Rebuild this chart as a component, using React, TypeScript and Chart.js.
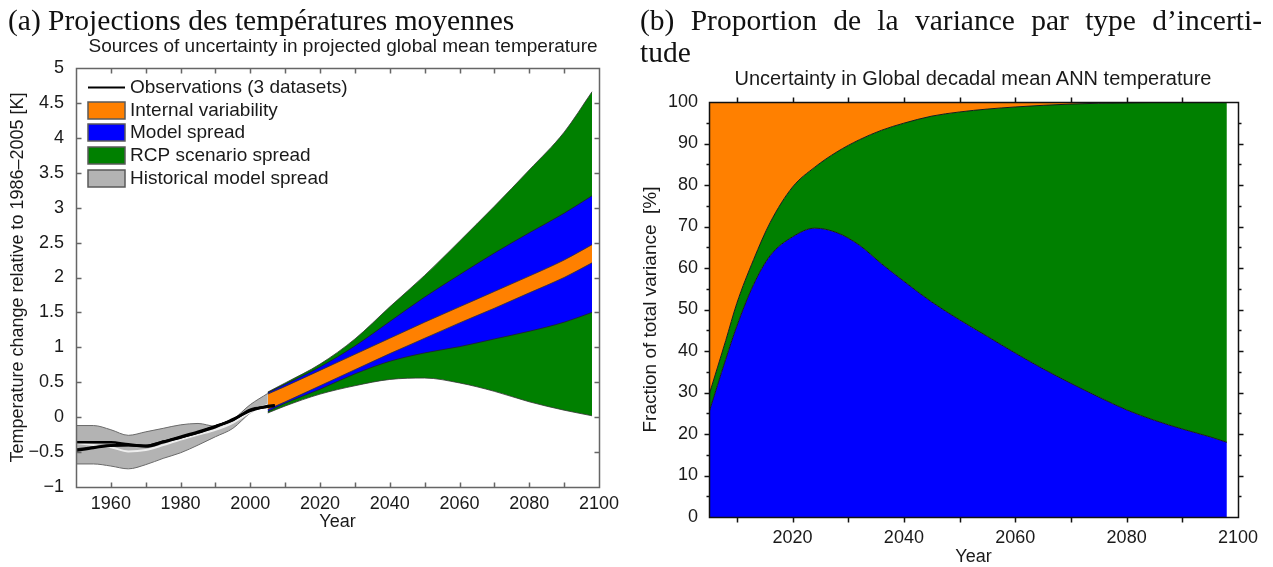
import React, { useEffect, useRef } from 'react';
import { Chart, registerables } from 'chart.js';

Chart.register(...registerables);

const SANS = "'Liberation Sans', Arial, Helvetica, sans-serif";
const SERIF = "'Liberation Serif', 'Times New Roman', serif";
const TEXT = '#1a1a1a';

// ---------------- Panel (a): temperature projections ----------------
const histYears = [1950, 1955, 1960, 1965, 1970, 1975, 1980, 1985, 1990, 1995, 2000, 2005];
const histSpreadTop = [-0.12, -0.12, -0.18, -0.26, -0.21, -0.16, -0.11, -0.09, -0.13, -0.03, 0.18, 0.34];
const histSpreadBottom = [-0.67, -0.67, -0.70, -0.74, -0.68, -0.59, -0.51, -0.40, -0.28, -0.16, 0.06, 0.18];
const histModelMean = [-0.37, -0.40, -0.43, -0.49, -0.47, -0.40, -0.32, -0.25, -0.18, -0.08, 0.07, 0.18];

const obsYears = [1950, 1955, 1960, 1965, 1970, 1975, 1980, 1985, 1990, 1995, 2000, 2005, 2007];
const obsSeriesA = [-0.36, -0.36, -0.36, -0.39, -0.41, -0.35, -0.28, -0.21, -0.13, -0.04, 0.10, 0.15, 0.16];
const obsSeriesB = [-0.48, -0.44, -0.41, -0.40, -0.42, -0.36, -0.29, -0.22, -0.14, -0.03, 0.09, 0.16, 0.17];
const obsSeriesC = [-0.46, -0.43, -0.40, -0.40, -0.41, -0.35, -0.29, -0.22, -0.13, -0.04, 0.11, 0.15, 0.17];

const projYears = [2005, 2010, 2020, 2030, 2040, 2050, 2060, 2070, 2080, 2090, 2098];
const rcpUpper = [0.36, 0.49, 0.76, 1.12, 1.58, 2.03, 2.52, 3.02, 3.54, 4.08, 4.66];
const modelUpper = [0.35, 0.47, 0.72, 1.02, 1.37, 1.72, 2.04, 2.35, 2.64, 2.92, 3.17];
const internalUpper = [0.33, 0.44, 0.67, 0.90, 1.13, 1.36, 1.58, 1.80, 2.02, 2.25, 2.47];
const internalLower = [0.11, 0.22, 0.45, 0.68, 0.91, 1.13, 1.35, 1.56, 1.78, 2.00, 2.21];
const modelLower = [0.08, 0.20, 0.40, 0.62, 0.80, 0.92, 1.01, 1.12, 1.23, 1.36, 1.50];
const rcpLower = [0.06, 0.16, 0.33, 0.45, 0.54, 0.56, 0.49, 0.37, 0.22, 0.10, 0.02];

const panelAXLabels = [1960, 1980, 2000, 2020, 2040, 2060, 2080, 2100];
const panelAXMarks = [1960, 1970, 1980, 1990, 2000, 2010, 2020, 2030, 2040, 2050, 2060, 2070, 2080, 2090];
const panelAYLabels = [-1, -0.5, 0, 0.5, 1, 1.5, 2, 2.5, 3, 3.5, 4, 4.5, 5];
const panelAYMarks = [-0.5, 0, 0.5, 1, 1.5, 2, 2.5, 3, 3.5, 4, 4.5];

const legendLabels = [
  'Observations (3 datasets)',
  'Internal variability',
  'Model spread',
  'RCP scenario spread',
  'Historical model spread',
];
const legendKinds = ['line', 'box', 'box', 'box', 'box'];
const legendColors = ['#000000', '#ff8000', '#0000ff', '#008000', '#b3b3b3'];

// ---------------- Panel (b): fraction of variance ----------------
const fracYears = [2005, 2008, 2010, 2013, 2016, 2020, 2024, 2028, 2032, 2036, 2040, 2045, 2050, 2055, 2060, 2065, 2070, 2075, 2080, 2085, 2090, 2095, 2098];
const modelSpreadPct = [25.2, 38, 46, 56, 63, 67.5, 69.6, 68.5, 65.5, 61, 56.8, 51.8, 47.5, 43.5, 39.5, 35.7, 32.2, 28.9, 25.8, 23.3, 21.2, 19.3, 18.0];
const modelPlusScenarioPct = [29.4, 42.5, 51.5, 62, 71, 79.5, 84.3, 88.0, 90.9, 93.2, 94.9, 96.6, 97.6, 98.3, 98.8, 99.2, 99.5, 99.7, 99.8, 99.9, 99.95, 100, 100];

const panelBXLabels = [2020, 2040, 2060, 2080, 2100];
const panelBXMarks = [2010, 2020, 2030, 2040, 2050, 2060, 2070, 2080, 2090];
const panelBYLabels = [0, 10, 20, 30, 40, 50, 60, 70, 80, 90, 100];
const panelBYMarks = [10, 20, 30, 40, 50, 60, 70, 80, 90];
const panelBYMinor = [5, 15, 25, 35, 45, 55, 65, 75, 85, 95];

// ---------------- helpers ----------------
const pts = (xs: number[], ys: number[]) => xs.map((x, i) => ({ x, y: ys[i] }));
const fmtNum = (v: number) => (v < 0 ? '\u2212' + String(Math.abs(v)) : String(v));

type FrameCfg = {
  color: string;
  lineWidth: number;
  inward: boolean;
  xMajor: number[];
  yMajor: number[];
  yMinor?: number[];
  majorLen: number;
  minorLen: number;
};

function makeFramePlugin(cfg: FrameCfg) {
  return {
    id: 'frameTicks',
    afterDatasetsDraw(chart: any) {
      const { ctx, chartArea: a } = chart;
      const xs = chart.scales.x;
      const ys = chart.scales.y;
      const L = Math.round(a.left) + 0.5;
      const R = Math.round(a.right) + 0.5;
      const T = Math.round(a.top) + 0.5;
      const B = Math.round(a.bottom) + 0.5;
      const d = cfg.inward ? 1 : -1;
      ctx.save();
      ctx.strokeStyle = cfg.color;
      ctx.lineWidth = cfg.lineWidth;
      ctx.beginPath();
      ctx.rect(L, T, R - L, B - T);
      const addX = (vals: number[], len: number) =>
        vals.forEach((v) => {
          const p = Math.round(xs.getPixelForValue(v)) + 0.5;
          ctx.moveTo(p, B);
          ctx.lineTo(p, B - d * len);
          ctx.moveTo(p, T);
          ctx.lineTo(p, T + d * len);
        });
      const addY = (vals: number[], len: number) =>
        vals.forEach((v) => {
          const p = Math.round(ys.getPixelForValue(v)) + 0.5;
          ctx.moveTo(L, p);
          ctx.lineTo(L + d * len, p);
          ctx.moveTo(R, p);
          ctx.lineTo(R - d * len, p);
        });
      addX(cfg.xMajor, cfg.majorLen);
      addY(cfg.yMajor, cfg.majorLen);
      if (cfg.yMinor) addY(cfg.yMinor, cfg.minorLen);
      ctx.stroke();
      ctx.restore();
    },
  };
}

const boxLegendPlugin = {
  id: 'boxLegend',
  afterDraw(chart: any) {
    const { ctx, chartArea: a } = chart;
    ctx.save();
    ctx.font = `19px ${SANS}`;
    ctx.textBaseline = 'middle';
    ctx.textAlign = 'left';
    legendLabels.forEach((label, i) => {
      const y = Math.round(a.top + 19 + i * 22.7);
      const x = Math.round(a.left + 12);
      if (legendKinds[i] === 'line') {
        ctx.strokeStyle = legendColors[i];
        ctx.lineWidth = 2;
        ctx.beginPath();
        ctx.moveTo(x, y + 0.5);
        ctx.lineTo(x + 37, y + 0.5);
        ctx.stroke();
      } else {
        ctx.fillStyle = legendColors[i];
        ctx.fillRect(x, y - 8, 37, 17);
        ctx.strokeStyle = '#5a5a5a';
        ctx.lineWidth = 1.5;
        ctx.strokeRect(x, y - 8, 37, 17);
      }
      ctx.fillStyle = TEXT;
      ctx.fillText(label, x + 42, y + 1);
    });
    ctx.restore();
  },
};

function bandLine(data: { x: number; y: number }[], fill: any, bg: string, border: string, width: number) {
  return {
    data,
    fill,
    backgroundColor: bg,
    borderColor: border,
    borderWidth: width,
    pointRadius: 0,
    cubicInterpolationMode: 'monotone',
  };
}

function makePanelA(): any {
  return {
    type: 'line',
    data: {
      datasets: [
        bandLine(pts(obsYears, obsSeriesA), false, 'transparent', '#000', 2.6),
        bandLine(pts(obsYears, obsSeriesB), false, 'transparent', '#000', 2.6),
        bandLine(pts(obsYears, obsSeriesC), false, 'transparent', '#111', 2.2),
        bandLine(pts(histYears, histModelMean), false, 'transparent', '#eeeeee', 2),
        bandLine(pts(histYears, histSpreadTop), '+1', '#b3b3b3', '#6a6a6a', 1),
        bandLine(pts(histYears, histSpreadBottom), false, 'transparent', '#6a6a6a', 1),
        bandLine(pts(projYears, internalUpper), '+1', '#ff8000', '#333', 0.8),
        bandLine(pts(projYears, internalLower), false, 'transparent', '#333', 0.8),
        bandLine(pts(projYears, modelUpper), '+1', '#0000ff', '#222', 0.8),
        bandLine(pts(projYears, modelLower), false, 'transparent', '#222', 0.8),
        bandLine(pts(projYears, rcpUpper), '+1', '#008000', '#333', 0.8),
        bandLine(pts(projYears, rcpLower), false, 'transparent', '#333', 0.8),
      ],
    },
    plugins: [
      makeFramePlugin({
        color: '#666',
        lineWidth: 1.5,
        inward: true,
        xMajor: panelAXMarks,
        yMajor: panelAYMarks,
        majorLen: 5,
        minorLen: 3,
      }),
      boxLegendPlugin,
    ],
    options: {
      animation: false,
      responsive: false,
      devicePixelRatio: 1,
      layout: { padding: { left: 0, right: 15, top: 68, bottom: 0 } },
      plugins: {
        legend: { display: false },
        tooltip: { enabled: false },
        title: { display: false },
        filler: { drawTime: 'beforeDatasetsDraw' },
      },
      scales: {
        x: {
          type: 'linear',
          min: 1950,
          max: 2100,
          grid: { display: false, drawTicks: false },
          border: { display: false },
          afterBuildTicks: (s: any) => {
            s.ticks = panelAXLabels.map((v) => ({ value: v }));
          },
          afterFit: (s: any) => {
            s.height = 80;
          },
          ticks: {
            autoSkip: false,
            maxRotation: 0,
            padding: 6,
            color: TEXT,
            font: { family: SANS, size: 18 },
            callback: (v: any) => String(v),
          },
          title: {
            display: true,
            text: 'Year',
            color: TEXT,
            font: { family: SANS, size: 18 },
            padding: { top: 0, bottom: 34 },
          },
        },
        y: {
          type: 'linear',
          min: -1,
          max: 5,
          grid: { display: false, drawTicks: false },
          border: { display: false },
          afterBuildTicks: (s: any) => {
            s.ticks = panelAYLabels.map((v) => ({ value: v }));
          },
          afterFit: (s: any) => {
            s.width = 76;
          },
          ticks: {
            autoSkip: false,
            padding: 12,
            color: TEXT,
            font: { family: SANS, size: 18 },
            callback: (v: any) => fmtNum(Number(v)),
          },
          title: {
            display: true,
            text: 'Temperature change relative to 1986\u20132005 [K]',
            color: TEXT,
            font: { family: SANS, size: 18 },
            padding: { top: 7, bottom: 0 },
          },
        },
      },
    },
  };
}

function makePanelB(): any {
  return {
    type: 'line',
    data: {
      datasets: [
        bandLine(pts(fracYears, modelSpreadPct), 'origin', '#0000ff', '#1a1a1a', 1),
        bandLine(pts(fracYears, modelPlusScenarioPct), '-1', '#008000', '#1a1a1a', 1),
        bandLine(pts(fracYears, modelPlusScenarioPct), 'end', '#ff8000', 'rgba(0,0,0,0)', 0),
      ],
    },
    plugins: [
      makeFramePlugin({
        color: '#111',
        lineWidth: 1.5,
        inward: false,
        xMajor: panelBXMarks,
        yMajor: panelBYMarks,
        yMinor: panelBYMinor,
        majorLen: 5,
        minorLen: 3,
      }),
    ],
    options: {
      animation: false,
      responsive: false,
      devicePixelRatio: 1,
      layout: { padding: { left: 0, right: 35, top: 102, bottom: 0 } },
      plugins: {
        legend: { display: false },
        tooltip: { enabled: false },
        title: { display: false },
        filler: { drawTime: 'beforeDatasetsDraw' },
      },
      scales: {
        x: {
          type: 'linear',
          min: 2005,
          max: 2100,
          grid: { display: false, drawTicks: false },
          border: { display: false },
          afterBuildTicks: (s: any) => {
            s.ticks = panelBXLabels.map((v) => ({ value: v }));
          },
          afterFit: (s: any) => {
            s.height = 50;
          },
          ticks: {
            autoSkip: false,
            maxRotation: 0,
            padding: 10,
            color: TEXT,
            font: { family: SANS, size: 18 },
            callback: (v: any) => String(v),
          },
          title: {
            display: true,
            text: 'Year',
            color: TEXT,
            font: { family: SANS, size: 18 },
            padding: { top: 0, bottom: -1 },
          },
        },
        y: {
          type: 'linear',
          min: 0,
          max: 100,
          grid: { display: false, drawTicks: false },
          border: { display: false },
          afterBuildTicks: (s: any) => {
            s.ticks = panelBYLabels.map((v) => ({ value: v }));
          },
          afterFit: (s: any) => {
            s.width = 79;
          },
          ticks: {
            autoSkip: false,
            padding: 11,
            color: TEXT,
            font: { family: SANS, size: 18 },
            callback: (v: any) => String(v),
          },
          title: {
            display: true,
            text: 'Fraction of total variance  [%]',
            color: TEXT,
            font: { family: SANS, size: 19 },
            padding: { top: 9, bottom: 0 },
          },
        },
      },
    },
  };
}

function ChartCanvas(props: { make: () => any; left: number; top: number; width: number; height: number }) {
  const ref = useRef<HTMLCanvasElement>(null);
  useEffect(() => {
    const chart = new Chart(ref.current as HTMLCanvasElement, props.make());
    return () => chart.destroy();
  }, []);
  return (
    <canvas
      ref={ref}
      width={props.width}
      height={props.height}
      style={{ position: 'absolute', left: props.left, top: props.top, width: props.width, height: props.height }}
    />
  );
}

const headingStyle = (left: number, top: number, width?: number): React.CSSProperties => ({
  position: 'absolute',
  left,
  top,
  width,
  fontFamily: SERIF,
  fontSize: 29.5,
  lineHeight: '33px',
  color: '#111',
  whiteSpace: 'nowrap',
  textAlign: width ? 'justify' : 'left',
  textAlignLast: width ? 'justify' : 'auto',
});

const centeredStyle = (cx: number, cy: number, size: number): React.CSSProperties => ({
  position: 'absolute',
  left: cx,
  top: cy,
  transform: 'translate(-50%, -50%)',
  fontFamily: SANS,
  fontSize: size,
  lineHeight: '22px',
  color: TEXT,
  whiteSpace: 'nowrap',
});

export default function App() {
  return (
    <div style={{ position: 'absolute', left: 0, top: 0, width: 1273, height: 567, background: '#fff', overflow: 'hidden' }}>
      <ChartCanvas make={makePanelA} left={0} top={0} width={625} height={567} />
      <ChartCanvas make={makePanelB} left={630} top={0} width={643} height={567} />
      <div style={headingStyle(8, 4)}>(a) Projections des températures moyennes</div>
      <div style={{ ...headingStyle(640, 4, 622), whiteSpace: 'normal' }}>
        {'(b) Proportion de la variance par type d\u2019incerti-'}
      </div>
      <div style={headingStyle(640, 36)}>tude</div>
      <div style={centeredStyle(343, 46, 19)}>Sources of uncertainty in projected global mean temperature</div>
      <div style={centeredStyle(973, 78, 20)}>Uncertainty in Global decadal mean ANN temperature</div>
    </div>
  );
}
